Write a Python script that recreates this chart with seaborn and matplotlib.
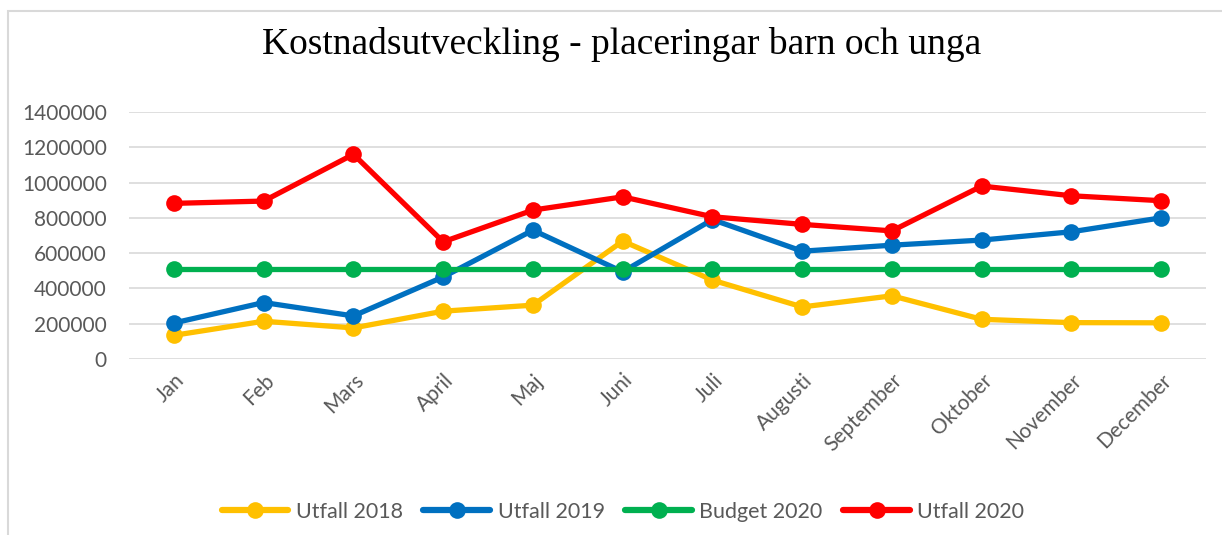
import pandas as pd
import matplotlib.pyplot as plt
import seaborn as sns
from matplotlib.patches import Rectangle

# Data
months = ['Jan', 'Feb', 'Mars', 'April', 'Maj', 'Juni', 'Juli',
          'Augusti', 'September', 'Oktober', 'November', 'December']
utfall_2018 = [134000, 214000, 176000, 271000, 305000, 668000, 447000,
               295000, 358000, 225000, 206000, 205000]
utfall_2019 = [204000, 320000, 244000, 465000, 730000, 494000, 790000,
               611000, 645000, 674000, 721000, 800000]
budget_2020 = [511000] * 12
utfall_2020 = [882000, 895000, 1160000, 664000, 844000, 919000, 806000,
               763000, 726000, 980000, 925000, 897000]

series_names = ['Utfall 2018', 'Utfall 2019', 'Budget 2020', 'Utfall 2020']
colors = ['#FFC000', '#0070C0', '#00B050', '#FF0000']
yticks = [0, 200000, 400000, 600000, 800000, 1000000, 1200000, 1400000]

df = pd.concat([
    pd.DataFrame({'Månad': months, 'Kostnad': vals, 'Serie': name})
    for name, vals in zip(series_names,
                          [utfall_2018, utfall_2019, budget_2020, utfall_2020])
])

sns.set_style('white')
plt.rcParams['font.family'] = ['Lato', 'DejaVu Sans']

fig = plt.figure(figsize=(12.22, 5.35), dpi=100)
ax = fig.add_axes([0.1056, 0.329, 0.8814, 0.4617])

sns.lineplot(data=df, x='Månad', y='Kostnad', hue='Serie',
             hue_order=series_names, palette=colors, marker='o',
             markersize=12, markeredgewidth=0, linewidth=3.8, sort=False,
             ax=ax)

ax.set_xlim(-0.5, 11.5)
ax.set_ylim(0, 1400000)
ax.set_yticks(yticks)
ax.set_yticklabels([str(t) for t in yticks])
ax.grid(axis='y', color='#D9D9D9', linewidth=1.2)
ax.set_axisbelow(True)
for s in ax.spines.values():
    s.set_visible(False)
ax.set_xlabel('')
ax.set_ylabel('')
ax.tick_params(axis='y', length=0, pad=16, labelsize=15, labelcolor='#595959')
ax.tick_params(axis='x', length=0, pad=8, labelsize=15, labelcolor='#595959')
plt.setp(ax.get_xticklabels(), rotation=45, ha='right', rotation_mode='anchor')

handles, labels = ax.get_legend_handles_labels()
for h in handles:
    h.set_linewidth(4.5)
ax.legend(handles, labels, loc='center',
          bbox_to_anchor=(0.5 + 12 / 1222, 0.043),
          bbox_transform=fig.transFigure, ncol=4, frameon=False,
          fontsize=15.5, handlelength=3.1, columnspacing=0.95,
          handletextpad=0.35, labelcolor='#595959')

fig.text(0.5 + 11 / 1222, 1 - 45 / 535,
         'Kostnadsutveckling - placeringar barn och unga',
         ha='center', va='center', fontsize=27, color='black',
         family='Liberation Serif')

# Chart area border (clipped at right and bottom like the reference)
fig.patches.append(Rectangle((8 / 1222, -0.1), 1.2, 1 - 11 / 535 + 0.1,
                             transform=fig.transFigure, fill=False,
                             edgecolor='#D9D9D9', linewidth=1.5))

fig.savefig('out.png', dpi=100)
